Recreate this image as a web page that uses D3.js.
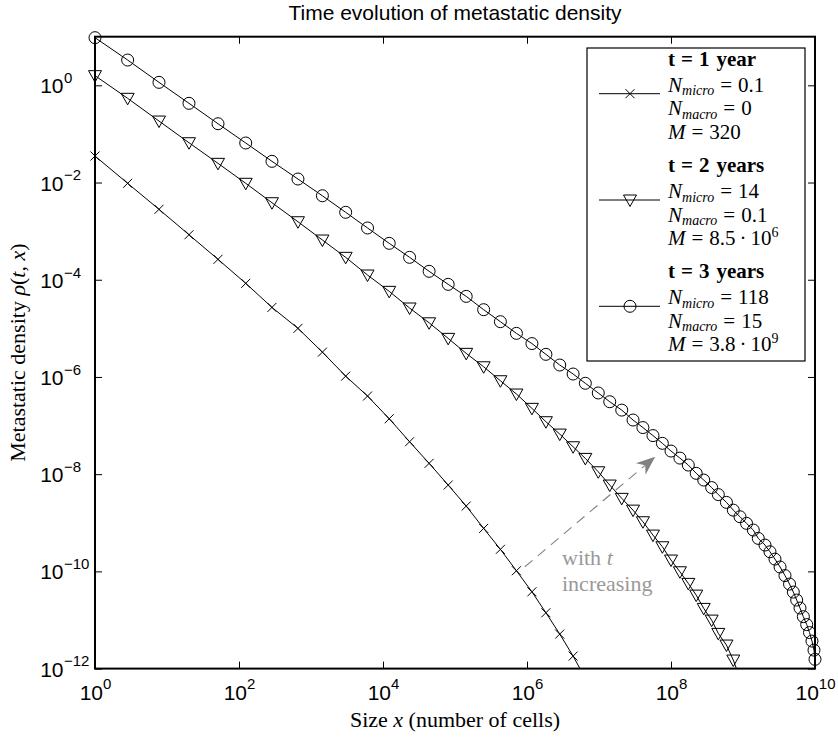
<!DOCTYPE html>
<html><head><meta charset="utf-8">
<script src="https://cdn.jsdelivr.net/npm/d3@7"></script>
<style>body{margin:0;background:#fff}</style>
</head><body><svg id="chart" width="838" height="738"></svg>
<script>
// ---- data ----
const sizes = [1, 2.84, 7.74, 20.2, 51.1, 124, 287, 659, 1.44e3, 3.03e3,
  6.10e3, 1.22e4, 2.34e4, 4.37e4, 8.04e4, 1.43e5, 2.50e5, 4.27e5, 7.13e5, 1.17e6,
  1.83e6, 2.85e6, 4.37e6, 6.46e6, 9.77e6, 1.41e7, 2.07e7, 2.97e7, 4.07e7, 5.62e7,
  7.59e7, 1.00e8, 1.33e8, 1.74e8, 2.24e8, 2.85e8, 3.67e8, 4.54e8, 5.89e8, 7.33e8,
  9.08e8, 1.12e9, 1.39e9, 1.63e9, 2.02e9, 2.37e9, 2.78e9, 3.27e9, 3.83e9, 4.43e9,
  5.00e9, 5.57e9, 6.19e9, 6.89e9, 7.67e9, 8.39e9, 9.08e9, 9.68e9, 1.00e10];
const density1 = [0.0351, 9.64e-3, 2.81e-3, 8.43e-4, 2.63e-4, 8.43e-5, 2.70e-5, 1.00e-5,
  3.24e-6, 1.04e-6, 4.05e-7, 1.38e-7, 4.65e-8, 1.67e-8, 5.97e-9, 2.21e-9, 7.67e-10,
  2.84e-10, 1.03e-10, 3.80e-11, 1.41e-11, 5.13e-12, 1.81e-12, 6.3e-13];
const density2 = [1.58, 0.540, 0.184, 0.0659, 0.0248, 9.64e-3, 3.84e-3, 1.56e-3, 6.56e-4,
  2.89e-4, 1.25e-4, 5.77e-5, 2.62e-5, 1.30e-5, 6.22e-6, 3.06e-6, 1.62e-6, 8.36e-7,
  4.45e-7, 2.26e-7, 1.20e-7, 6.68e-8, 3.66e-8, 2.11e-8, 1.12e-8, 5.97e-9, 3.18e-9,
  1.82e-9, 1.05e-9, 5.58e-10, 3.21e-10, 1.71e-10, 9.82e-11, 5.66e-11, 3.25e-11,
  1.73e-11, 9.95e-12, 5.30e-12, 3.05e-12, 1.50e-12, 6.3e-13];
const density3 = [9.55, 3.31, 1.15, 0.426, 0.162, 0.0650, 0.0273, 0.0118, 5.34e-3, 2.44e-3,
  1.16e-3, 5.61e-4, 2.89e-4, 1.49e-4, 8.04e-5, 4.55e-5, 2.42e-5, 1.37e-5, 7.89e-6, 4.86e-6,
  2.92e-6, 1.76e-6, 1.15e-6, 7.41e-7, 4.68e-7, 3.09e-7, 2.08e-7, 1.30e-7, 9.10e-8, 6.22e-8,
  4.31e-8, 2.99e-8, 2.14e-8, 1.54e-8, 1.04e-8, 7.57e-9, 5.30e-9, 3.80e-9, 2.63e-9, 1.82e-9,
  1.33e-9, 9.73e-10, 7.08e-10, 4.77e-10, 3.48e-10, 2.53e-10, 1.79e-10, 1.23e-10, 8.20e-11, 5.48e-11,
  3.75e-11, 2.57e-11, 1.76e-11, 1.17e-11, 8.04e-12, 5.51e-12, 3.68e-12, 2.40e-12, 1.55e-12];
const seriesYears = ['1 year', '2 years', '3 years'];
const seriesMarkers = ['cross', 'triangle', 'circle'];
const nMicro = ['0.1', '14', '118'];
const nMacro = ['0', '0.1', '15'];
const mMantissa = ['320', '8.5', '3.8'];
const mExponent = ['', '6', '9'];
const xTicks = [1e0, 1e2, 1e4, 1e6, 1e8, 1e10];
const yTicks = [1e-12, 1e-10, 1e-8, 1e-6, 1e-4, 1e-2, 1e0];
const xDomain = [1, 1e10];
const yDomain = [1e-12, 1e1];
const arrowFrom = [9.33e5, 1.245e-10];
const arrowTo = [6.03e7, 2.28e-8];
const titleText = 'Time evolution of metastatic density';

// ---- layout ----
const L = 95, R = 815, T = 36.7, B = 668.6;
const svg = d3.select('#chart');
svg.append('rect').attr('width', 838).attr('height', 738).attr('fill', '#fff');
const x = d3.scaleLog().domain(xDomain).range([L, R]);
const y = d3.scaleLog().domain(yDomain).range([B, T]);
const SANS = 'Liberation Sans, Arial, Helvetica, sans-serif';
const SERIF = 'Liberation Serif, Times New Roman, serif';

svg.append('defs').append('clipPath').attr('id', 'clip')
  .append('rect').attr('x', L).attr('y', T).attr('width', R - L).attr('height', B - T);

const expStr = d => { const e = Math.round(Math.log10(d)); return e < 0 ? '\u2212' + (-e) : String(e); };

// axes (ticks inside)
function styleAxis(g) {
  g.select('.domain').remove();
  g.selectAll('.tick line').attr('stroke', '#000').attr('stroke-width', 1);
}
const gx = svg.append('g').attr('transform', `translate(0,${B})`)
  .call(d3.axisBottom(x).tickValues(xTicks).tickSize(-7).tickSizeOuter(0).tickFormat(''));
styleAxis(gx);
gx.selectAll('.tick').each(function(d) {
  const t = d3.select(this).append('text').attr('y', 31.5).attr('text-anchor', 'middle')
    .attr('fill', '#000').attr('font-family', SANS).attr('font-size', 21);
  t.append('tspan').text('10');
  t.append('tspan').attr('dy', -11).attr('font-size', 15).text(expStr(d));
});
const gy = svg.append('g').attr('transform', `translate(${L},0)`)
  .call(d3.axisLeft(y).tickValues(yTicks).tickSize(-7).tickSizeOuter(0).tickFormat(''));
styleAxis(gy);
gy.selectAll('.tick').each(function(d) {
  const g = d3.select(this);
  g.append('text').attr('x', -31.5).attr('y', 7.5).attr('text-anchor', 'end')
    .attr('fill', '#000').attr('font-family', SANS).attr('font-size', 21).text('10');
  g.append('text').attr('x', -31).attr('y', -2.7).attr('text-anchor', 'start')
    .attr('fill', '#000').attr('font-family', SANS).attr('font-size', 15).text(expStr(d));
});
styleAxis(svg.append('g').attr('transform', `translate(0,${T})`)
  .call(d3.axisTop(x).tickValues(xTicks).tickSize(-7).tickSizeOuter(0).tickFormat('')));
styleAxis(svg.append('g').attr('transform', `translate(${R},0)`)
  .call(d3.axisRight(y).tickValues(yTicks).tickSize(-7).tickSizeOuter(0).tickFormat('')));

// box
svg.append('rect').attr('x', L).attr('y', T).attr('width', R - L).attr('height', B - T)
  .attr('fill', 'none').attr('stroke', '#000').attr('stroke-width', 2);

// markers
function markerPath(type) {
  if (type === 'cross') return 'M-4.5,-4.5L4.5,4.5M-4.5,4.5L4.5,-4.5';
  if (type === 'triangle') return 'M-6.5,-5L6.5,-5L0,6.5Z';
  return d3.arc()({innerRadius: 0, outerRadius: 6, startAngle: 0, endAngle: 2 * Math.PI});
}
const allSeries = [density1, density2, density3];
const line = d3.line().x(d => x(d[0])).y(d => y(d[1]));
allSeries.forEach((vals, i) => {
  const pts = vals.map((v, k) => [sizes[k], v]);
  svg.append('path').attr('d', line(pts)).attr('clip-path', 'url(#clip)')
    .attr('fill', 'none').attr('stroke', '#000').attr('stroke-width', 1);
  svg.append('g').selectAll('path').data(pts.filter(p => p[1] >= yDomain[0] && p[1] <= yDomain[1]))
    .join('path').attr('d', markerPath(seriesMarkers[i]))
    .attr('transform', p => `translate(${x(p[0])},${y(p[1])})`)
    .attr('fill', 'none').attr('stroke', '#000').attr('stroke-width', 1);
});

// arrow annotation
const ax0 = x(arrowFrom[0]), ay0 = y(arrowFrom[1]), ax1 = x(arrowTo[0]), ay1 = y(arrowTo[1]);
const ang = Math.atan2(ay1 - ay0, ax1 - ax0);
const ux = Math.cos(ang), uy = Math.sin(ang), px = -uy, py = ux;
const hl = 19, hw = 7.5, notch = 13;
svg.append('line').attr('x1', ax0).attr('y1', ay0)
  .attr('x2', ax1 - ux * notch).attr('y2', ay1 - uy * notch)
  .attr('stroke', '#808080').attr('stroke-width', 1.1).attr('stroke-dasharray', '10,7');
svg.append('path').attr('d', `M${ax1},${ay1}L${ax1 - ux * hl + px * hw},${ay1 - uy * hl + py * hw}` +
  `L${ax1 - ux * notch},${ay1 - uy * notch}L${ax1 - ux * hl - px * hw},${ay1 - uy * hl - py * hw}Z`)
  .attr('fill', '#808080');
const ann = svg.append('g').attr('font-family', SERIF).attr('font-size', 22).attr('fill', '#999');
const a1 = ann.append('text').attr('x', 562).attr('y', 565);
a1.append('tspan').text('with ');
a1.append('tspan').attr('font-style', 'italic').text('t');
ann.append('text').attr('x', 562).attr('y', 591).text('increasing');

// legend
const lg = svg.append('g');
lg.append('rect').attr('x', 587).attr('y', 48).attr('width', 218).attr('height', 313)
  .attr('fill', '#fff').attr('stroke', '#000').attr('stroke-width', 1.2);
const LX = 668;
seriesYears.forEach((yr, i) => {
  const base = 65.7 + i * 106.3;
  const t0 = lg.append('text').attr('x', LX).attr('y', base).attr('font-family', SERIF)
    .attr('font-size', 21).attr('font-weight', 'bold');
  t0.append('tspan').text('t');
  t0.append('tspan').attr('dx', 6).text('=');
  t0.append('tspan').attr('dx', 6).text(yr.split(' ')[0]);
  t0.append('tspan').attr('dx', 7).text(yr.split(' ')[1]);
  [['micro', nMicro[i], 26], ['macro', nMacro[i], 49.5]].forEach(([sub, val, off]) => {
    const t = lg.append('text').attr('x', LX).attr('y', base + off).attr('font-family', SERIF).attr('font-size', 21);
    t.append('tspan').attr('font-style', 'italic').text('N');
    t.append('tspan').attr('font-style', 'italic').attr('font-size', 14).attr('dy', 3.5).text(sub);
    t.append('tspan').attr('dy', -3.5).attr('dx', 6).text('=');
    t.append('tspan').attr('dx', 6).text(val);
  });
  const tm = lg.append('text').attr('x', LX).attr('y', base + 73).attr('font-family', SERIF).attr('font-size', 21);
  tm.append('tspan').attr('font-style', 'italic').text('M');
  tm.append('tspan').attr('dx', 6).text('=');
  tm.append('tspan').attr('dx', 6).text(mMantissa[i]);
  if (mExponent[i]) {
    tm.append('tspan').attr('dx', 4).text('\u00b7');
    tm.append('tspan').attr('dx', 4).text('10');
    tm.append('tspan').attr('font-size', 14).attr('dy', -8).text(mExponent[i]);
  }
  const ly = base + 28;
  lg.append('line').attr('x1', 599).attr('x2', 660).attr('y1', ly).attr('y2', ly)
    .attr('stroke', '#000').attr('stroke-width', 1);
  lg.append('path').attr('d', markerPath(seriesMarkers[i])).attr('transform', `translate(630,${ly})`)
    .attr('fill', 'none').attr('stroke', '#000').attr('stroke-width', 1);
});

// titles
svg.append('text').attr('x', (L + R) / 2).attr('y', 20).attr('text-anchor', 'middle')
  .attr('font-family', SANS).attr('font-size', 21).text(titleText);
const xl = svg.append('text').attr('x', (L + R) / 2).attr('y', 727).attr('text-anchor', 'middle')
  .attr('font-family', SERIF).attr('font-size', 22);
xl.append('tspan').text('Size ');
xl.append('tspan').attr('font-style', 'italic').text('x');
xl.append('tspan').text(' (number of cells)');
const yl = svg.append('text').attr('transform', `translate(25,${(T + B) / 2}) rotate(-90)`)
  .attr('text-anchor', 'middle').attr('font-family', SERIF).attr('font-size', 22);
yl.append('tspan').text('Metastatic density ');
yl.append('tspan').attr('font-style', 'italic').text('\u03c1');
yl.append('tspan').text('(');
yl.append('tspan').attr('font-style', 'italic').text('t');
yl.append('tspan').text(', ');
yl.append('tspan').attr('font-style', 'italic').text('x');
yl.append('tspan').text(')');
</script></body></html>
